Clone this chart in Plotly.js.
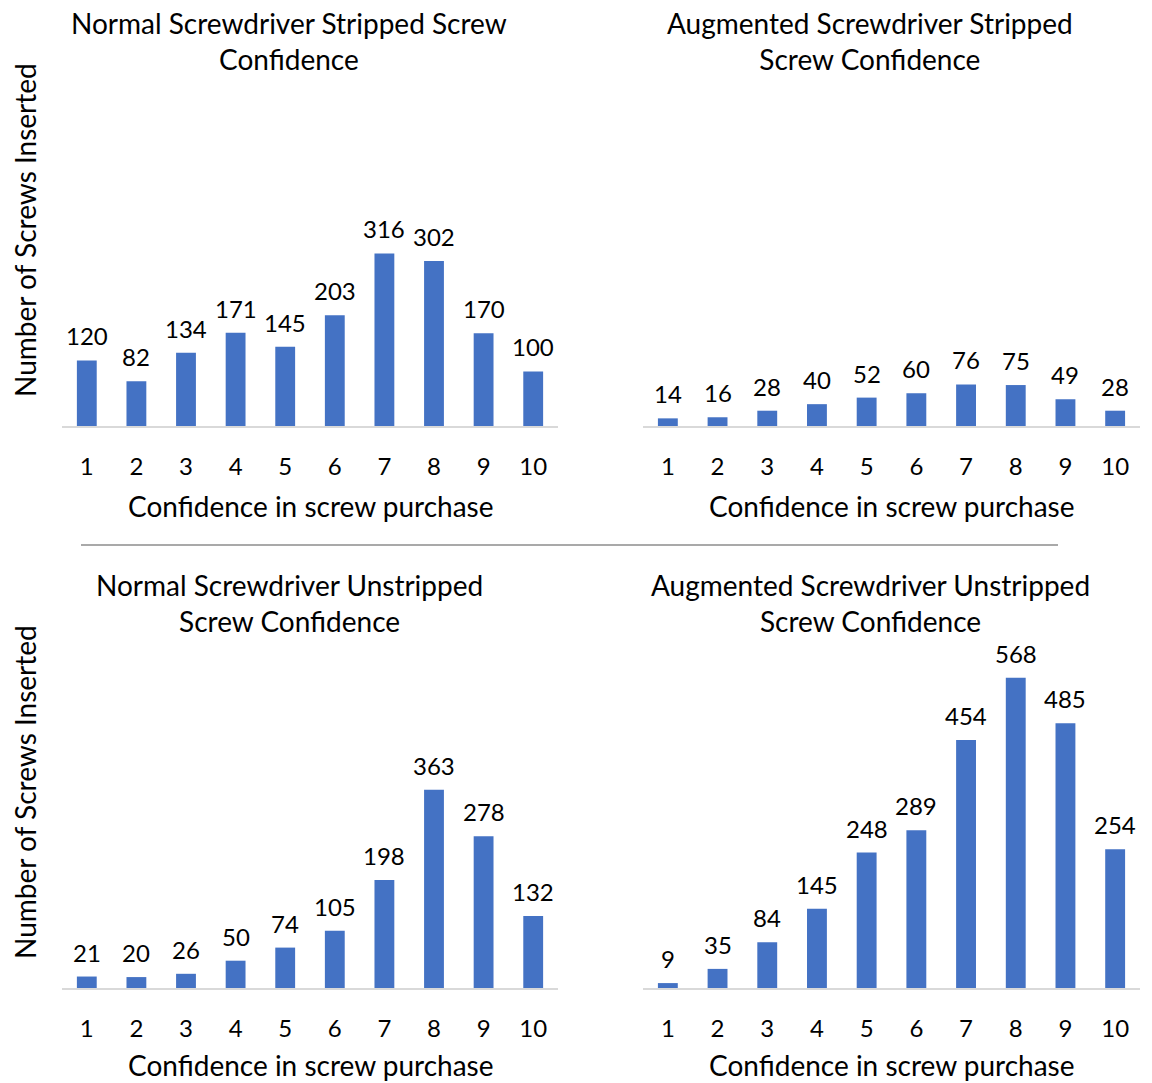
<!DOCTYPE html>
<html>
<head>
<meta charset="utf-8">
<script src="https://cdn.plot.ly/plotly-3.0.1.min.js"></script>
<style>html,body{margin:0;padding:0;background:#fff}#chart{width:1152px;height:1083px}</style>
</head>
<body>
<div id="chart"></div>
<script>
const categories = ["1","2","3","4","5","6","7","8","9","10"];
const normalStripped = [120, 82, 134, 171, 145, 203, 316, 302, 170, 100];
const augmentedStripped = [14, 16, 28, 40, 52, 60, 76, 75, 49, 28];
const normalUnstripped = [21, 20, 26, 50, 74, 105, 198, 363, 278, 132];
const augmentedUnstripped = [9, 35, 84, 145, 248, 289, 454, 568, 485, 254];
const titles = [
  "Normal Screwdriver Stripped Screw<br>Confidence",
  "Augmented Screwdriver Stripped<br>Screw Confidence",
  "Normal Screwdriver Unstripped<br>Screw Confidence",
  "Augmented Screwdriver Unstripped<br>Screw Confidence"
];
const xTitle = "Confidence in screw purchase";
const yTitle = "Number of Screws Inserted";

const W = 1152, H = 1083;
const FONT = "Lato, 'Open Sans', sans-serif";
const BAR = "#4472C4";
const series = [normalStripped, augmentedStripped, normalUnstripped, augmentedUnstripped];

const xDom = [[62/W, 558/W], [643/W, 1140/W]];
const yMax = 620;
const plotH = yMax * 0.546;
const base = [426, 988];
const yDom = base.map(b => [1 - b/H, 1 - (b - plotH)/H]);

const traces = series.map((vals, i) => ({
  type: "bar",
  x: categories,
  y: vals,
  marker: {color: BAR},
  xaxis: i === 0 ? "x" : "x" + (i + 1),
  yaxis: i === 0 ? "y" : "y" + (i + 1),
  hoverinfo: "x+y"
}));

const layout = {
  width: W, height: H,
  margin: {l: 0, r: 0, t: 0, b: 0},
  paper_bgcolor: "#fff", plot_bgcolor: "#fff",
  showlegend: false,
  bargap: 0.6,
  font: {family: FONT, size: 24, color: "#000"},
  annotations: [],
  shapes: [{
    type: "line", xref: "paper", yref: "paper",
    x0: 81/W, x1: 1058/W, y0: 1 - 545/H, y1: 1 - 545/H,
    line: {color: "#8c8c8c", width: 1.5}
  }]
};

const titleCx = [289, 870];
const titleTop = [23, 585];
const xTitleY = [506, 1065];
for (let i = 0; i < 4; i++) {
  const col = i % 2, row = Math.floor(i / 2);
  const xs = i === 0 ? "" : String(i + 1);
  const xref = i === 0 ? "x" : "x" + (i + 1);
  const yref = i === 0 ? "y" : "y" + (i + 1);
  layout["xaxis" + xs] = {
    domain: xDom[col], range: [-0.5, 9.5], type: "category",
    showgrid: false, zeroline: false,
    showline: true, linecolor: "#d9d9d9", linewidth: 1.5,
    ticks: "", ticklabelstandoff: 19,
    tickfont: {family: FONT, size: 24, color: "#000"},
    anchor: yref,
    fixedrange: true
  };
  layout["yaxis" + xs] = {
    domain: yDom[row], range: [0, yMax],
    visible: false, fixedrange: true,
    anchor: xref
  };
  series[i].forEach((v, k) => {
    layout.annotations.push({
      text: String(v), xref: xref, yref: yref,
      x: k, y: v, xanchor: "center", yanchor: "bottom",
      yshift: 8, showarrow: false,
      font: {family: FONT, size: 24, color: "#000"}
    });
  });
  layout.annotations.push({
    text: titles[i], xref: "paper", yref: "paper",
    x: titleCx[col] / W, y: 1 - (titleTop[row] - 19) / H,
    xanchor: "center", yanchor: "top", showarrow: false,
    font: {family: FONT, size: 28, color: "#000"}
  });
  layout.annotations.push({
    text: xTitle, xref: "paper", yref: "paper",
    x: ((xDom[col][0] + xDom[col][1]) / 2), y: 1 - xTitleY[row] / H,
    xanchor: "center", yanchor: "middle", showarrow: false,
    font: {family: FONT, size: 28, color: "#000"}
  });
}
for (let row = 0; row < 2; row++) {
  layout.annotations.push({
    text: yTitle, xref: "paper", yref: "paper",
    x: 25 / W, y: 1 - (base[row] - 196) / H,
    xanchor: "center", yanchor: "middle", textangle: -90, showarrow: false,
    font: {family: FONT, size: 28, color: "#000"}
  });
}

Plotly.newPlot("chart", traces, layout, {displayModeBar: false, staticPlot: true});
</script>
</body>
</html>
